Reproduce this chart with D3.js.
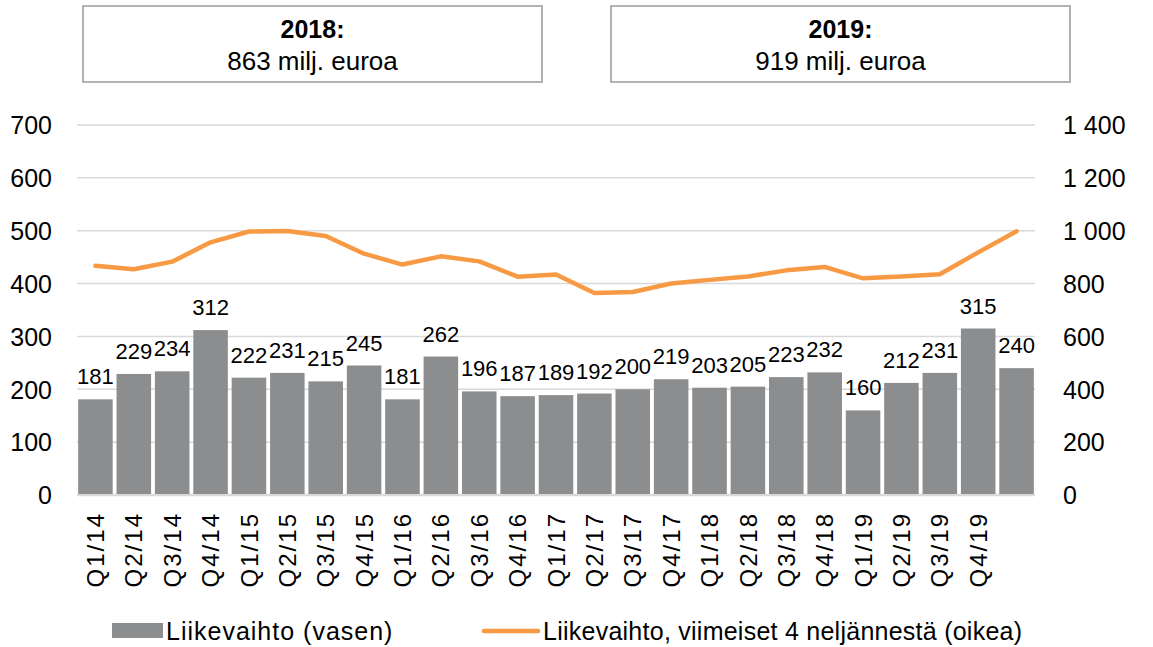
<!DOCTYPE html>
<html>
<head>
<meta charset="utf-8">
<script src="https://cdn.jsdelivr.net/npm/d3@7"></script>
<style>
  body { margin: 0; background: #fff; }
  text { font-family: "Liberation Sans", Arial, sans-serif; fill: #000; }
</style>
</head>
<body>
<div class="chart"></div>
<script>
var svgWidth = 1153;
var svgHeight = 647;

// Data
var quarters = ["Q1/14", "Q2/14", "Q3/14", "Q4/14", "Q1/15", "Q2/15", "Q3/15", "Q4/15",
  "Q1/16", "Q2/16", "Q3/16", "Q4/16", "Q1/17", "Q2/17", "Q3/17", "Q4/17",
  "Q1/18", "Q2/18", "Q3/18", "Q4/18", "Q1/19", "Q2/19", "Q3/19", "Q4/19", ""];
var revenue = [181, 229, 234, 312, 222, 231, 215, 245, 181, 262, 196, 187, 189,
  192, 200, 219, 203, 205, 223, 232, 160, 212, 231, 315, 240];
var rolling = [867, 854, 883, 956, 997, 999, 980, 913, 872, 903, 884, 826, 834,
  764, 768, 800, 814, 827, 850, 863, 820, 827, 835, 918, 998];
var leftTicks = [0, 100, 200, 300, 400, 500, 600, 700];
var rightTicks = [0, 200, 400, 600, 800, 1000, 1200, 1400];
var boxTitles = ["2018:", "2019:"];
var boxTexts = ["863 milj. euroa", "919 milj. euroa"];
var legendLabels = ["Liikevaihto (vasen)", "Liikevaihto, viimeiset 4 neljännestä (oikea)"];

var barColor = "#8c8d8f";
var lineColor = "#f79a43";

var plot = { left: 77, right: 1035, top: 125, bottom: 495 };

var svg = d3.select(".chart")
  .append("svg")
  .attr("width", svgWidth)
  .attr("height", svgHeight);

var xBandScale = d3.scaleBand()
  .domain(d3.range(quarters.length))
  .range([plot.left, plot.right])
  .paddingInner(0.1)
  .paddingOuter(0.03);

var yLeftScale = d3.scaleLinear().domain([0, 700]).range([plot.bottom, plot.top]);
var yRightScale = d3.scaleLinear().domain([0, 1400]).range([plot.bottom, plot.top]);

var spaceFormat = d3.formatLocale({ decimal: ",", thousands: " ", grouping: [3], currency: ["", "€"] }).format(",");

// gridlines
svg.append("g")
  .selectAll("line")
  .data(leftTicks)
  .enter().append("line")
  .attr("x1", plot.left)
  .attr("x2", plot.right)
  .attr("y1", function(d) { return yLeftScale(d); })
  .attr("y2", function(d) { return yLeftScale(d); })
  .style("stroke", "#d9d9d9")
  .style("stroke-width", d => d === 0 ? 2.5 : 1.5);

// left axis
var leftAxis = d3.axisLeft(yLeftScale).tickValues(leftTicks).tickSize(0).tickPadding(0);
var gLeft = svg.append("g")
  .attr("transform", "translate(52,0)")
  .call(leftAxis);
gLeft.select(".domain").remove();
gLeft.selectAll("text")
  .attr("dy", "0.35em")
  .style("font-size", "25px")
  .style("font-family", "Liberation Sans, Arial, sans-serif")
  .style("fill", "#000");

// right axis
var rightAxis = d3.axisRight(yRightScale).tickValues(rightTicks).tickSize(0).tickPadding(0)
  .tickFormat(spaceFormat);
var gRight = svg.append("g")
  .attr("transform", "translate(1063,0)")
  .call(rightAxis);
gRight.select(".domain").remove();
gRight.selectAll("text")
  .attr("dy", "0.35em")
  .style("font-size", "25px")
  .style("font-family", "Liberation Sans, Arial, sans-serif")
  .style("fill", "#000");

// bars
svg.append("g")
  .selectAll("rect")
  .data(revenue)
  .enter().append("rect")
  .attr("x", function(d, i) { return xBandScale(i); })
  .attr("y", function(d) { return yLeftScale(d); })
  .attr("width", xBandScale.bandwidth())
  .attr("height", function(d) { return yLeftScale(0) - yLeftScale(d) - 1; })
  .style("fill", barColor);

// bar value labels
svg.append("g")
  .selectAll("text")
  .data(revenue)
  .enter().append("text")
  .attr("x", function(d, i) { return xBandScale(i) + xBandScale.bandwidth() / 2; })
  .attr("y", function(d) { return yLeftScale(d) - 15; })
  .attr("text-anchor", "middle")
  .style("font-size", "22px")
  .text(function(d) { return d; });

// rolling line
var line = d3.line()
  .x(function(d, i) { return xBandScale(i) + xBandScale.bandwidth() / 2; })
  .y(function(d) { return yRightScale(d); });

svg.append("path")
  .datum(rolling)
  .attr("d", line)
  .style("fill", "none")
  .style("stroke", lineColor)
  .style("stroke-width", 4.5)
  .style("stroke-linejoin", "round")
  .style("stroke-linecap", "round");

// category axis
var bottomAxis = d3.axisBottom(xBandScale).tickSize(0).tickPadding(0)
  .tickFormat(function(i) { return quarters[i]; });
var gBottom = svg.append("g")
  .attr("transform", "translate(0," + plot.bottom + ")")
  .call(bottomAxis);
gBottom.select(".domain").remove();
gBottom.selectAll("text")
  .attr("transform", "translate(0,17) rotate(-90)")
  .attr("x", 0)
  .attr("y", 0)
  .attr("dy", "0.36em")
  .attr("text-anchor", "end")
  .style("font-size", "24px")
  .style("letter-spacing", "2px")
  .style("font-family", "Liberation Sans, Arial, sans-serif")
  .style("fill", "#000");

// header boxes
var boxes = svg.append("g")
  .selectAll("g")
  .data(boxTitles)
  .enter().append("g")
  .attr("transform", function(d, i) { return "translate(" + (i === 0 ? 83 : 611) + ",6)"; });

boxes.append("rect")
  .attr("width", 459)
  .attr("height", 76)
  .style("fill", "#fff")
  .style("stroke", "#9a9a9a")
  .style("stroke-width", 1.5);

boxes.append("text")
  .attr("x", 229.5)
  .attr("y", 32)
  .attr("text-anchor", "middle")
  .style("font-size", "25px")
  .style("font-weight", "bold")
  .text(function(d) { return d; });

boxes.append("text")
  .attr("x", 229.5)
  .attr("y", 64)
  .attr("text-anchor", "middle")
  .style("font-size", "26px")
  .text(function(d, i) { return boxTexts[i]; });

// legend
var legend = svg.append("g");
legend.append("rect")
  .attr("x", 112)
  .attr("y", 623)
  .attr("width", 51)
  .attr("height", 15)
  .style("fill", barColor);
legend.append("text")
  .attr("x", 166)
  .attr("y", 640)
  .style("font-size", "25px")
  .style("letter-spacing", "1px")
  .text(legendLabels[0]);
legend.append("line")
  .attr("x1", 484)
  .attr("x2", 538)
  .attr("y1", 631)
  .attr("y2", 631)
  .style("stroke", lineColor)
  .style("stroke-width", 4.5)
  .style("stroke-linecap", "round");
legend.append("text")
  .attr("x", 543)
  .attr("y", 640)
  .style("font-size", "25px")
  .style("letter-spacing", "0.25px")
  .text(legendLabels[1]);
</script>
</body>
</html>
